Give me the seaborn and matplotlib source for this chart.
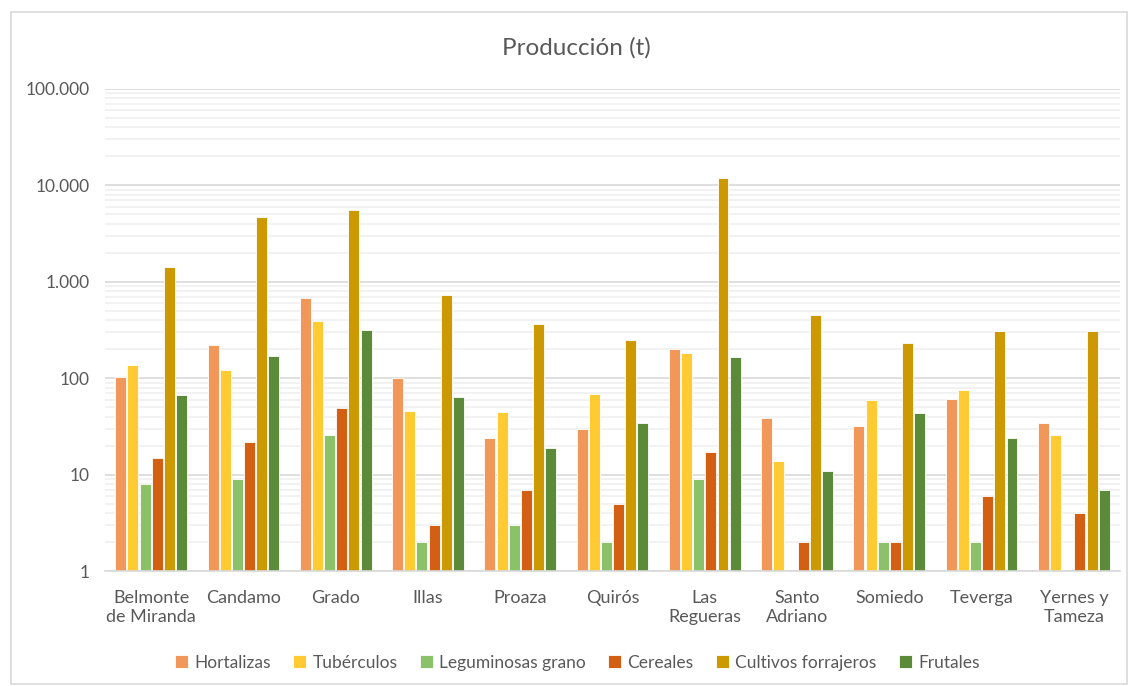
import numpy as np
import pandas as pd
import matplotlib
matplotlib.use("Agg")
import matplotlib.pyplot as plt
from matplotlib.ticker import FixedLocator, FuncFormatter, NullFormatter
from matplotlib.patches import Rectangle
import seaborn as sns

municipios = ["Belmonte\nde Miranda", "Candamo", "Grado", "Illas", "Proaza", "Quirós",
              "Las\nRegueras", "Santo\nAdriano", "Somiedo", "Teverga", "Yernes y\nTameza"]
hortalizas = [103, 221, 673, 100, 24, 30, 201, 39, 32, 61, 34]
tuberculos = [138, 123, 395, 46, 45, 68, 183, 14, 60, 76, 26]
leguminosas = [8, 9, 26, 2, 3, 2, 9, 0, 2, 2, 0]
cereales = [15, 22, 49, 3, 7, 5, 17, 2, 2, 6, 4]
forrajeros = [1420, 4700, 5560, 722, 367, 249, 11800, 456, 232, 309, 309]
frutales = [67, 170, 318, 64, 19, 34, 166, 11, 44, 24, 7]

series_names = ["Hortalizas", "Tubérculos", "Leguminosas grano", "Cereales",
                "Cultivos forrajeros", "Frutales"]
series_vals = [hortalizas, tuberculos, leguminosas, cereales, forrajeros, frutales]
colors = ["#F1975A", "#FFCA32", "#8BC168", "#D35F12", "#CC9A00", "#5B8A38"]

rows = []
for name, vals in zip(series_names, series_vals):
    for m, v in zip(municipios, vals):
        rows.append({"Municipio": m, "Cultivo": name, "t": v if v > 0 else np.nan})
df = pd.DataFrame(rows)

sns.set_theme(style="white")
plt.rcParams["font.family"] = ["Lato", "DejaVu Sans"]

fig = plt.figure(figsize=(11.32, 6.86), dpi=100)
ax = fig.add_axes([0.0928, 0.1676, 0.8966, 0.7027])

sns.barplot(data=df, x="Municipio", y="t", hue="Cultivo", order=municipios,
            hue_order=series_names, palette=colors, width=0.79, gap=0.1,
            edgecolor="white", linewidth=0.6, ax=ax, legend=True, saturation=1, errorbar=None)

ax.set_yscale("log")
ax.set_ylim(1, 100000)
ax.set_xlim(-0.5, len(municipios) - 0.5)
major = [1, 10, 100, 1000, 10000, 100000]
minor = [m * 10 ** e for e in range(0, 5) for m in range(2, 10)]
ax.yaxis.set_major_locator(FixedLocator(major))
ax.yaxis.set_minor_locator(FixedLocator(minor))
ax.yaxis.set_major_formatter(FuncFormatter(lambda v, p: f"{int(round(v)):,}".replace(",", ".")))
ax.yaxis.set_minor_formatter(NullFormatter())
ax.grid(True, which="major", axis="y", color="#D9D9D9", linewidth=1.2)
ax.grid(True, which="minor", axis="y", color="#F0F0F0", linewidth=1.2)
ax.set_axisbelow(True)
for s in ["top", "right", "left"]:
    ax.spines[s].set_visible(False)
ax.spines["bottom"].set_color("#D9D9D9")
ax.spines["bottom"].set_linewidth(1.2)
ax.tick_params(axis="y", which="both", length=0, labelsize=12.5, labelcolor="#595959", pad=11)
ax.tick_params(axis="x", length=0, labelsize=13, labelcolor="#595959", pad=14)
ax.set_xlabel("")
ax.set_ylabel("")

fig.text(0.509, 0.931, "Producción (t)", ha="center", va="center", fontsize=17.5, color="#595959")

handles, labels = ax.get_legend_handles_labels()
ax.legend_.remove()
fig.legend(handles, labels, loc="center", bbox_to_anchor=(0.51, 0.034), ncol=6, frameon=False,
           fontsize=12.5, labelcolor="#595959", handlelength=0.75, handleheight=0.75,
           handletextpad=0.35, columnspacing=1.3)

fig.patches.append(Rectangle((11 / 1132, 2 / 686), 1116 / 1132, 672 / 686, transform=fig.transFigure,
                             fill=False, edgecolor="#D9D9D9", linewidth=1.2))

fig.savefig("out.png", dpi=100, facecolor="white")
